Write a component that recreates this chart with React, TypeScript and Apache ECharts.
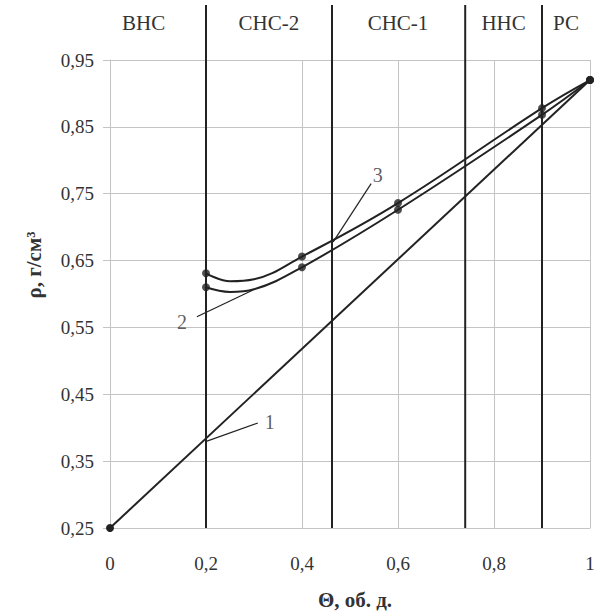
import React, { useEffect, useRef } from "react";
import * as echarts from "echarts";

// x ticks (Θ, vol. fraction) and y range (ρ, g/cm³)
const xMin = 0;
const xMax = 1;
const xStep = 0.2;
const yMin = 0.25;
const yMax = 0.95;
const yStep = 0.1;

// curve 1: straight line
const line1Theta = [0, 1];
const line1Rho = [0.25, 0.92];

// curves 2 and 3
const curveTheta = [0.2, 0.25, 0.3, 0.4, 0.6, 0.9, 1.0];
const rho2Curve = [0.61, 0.603, 0.607, 0.64, 0.726, 0.868, 0.92];
const rho3Curve = [0.631, 0.619, 0.622, 0.656, 0.736, 0.878, 0.92];

// measured points (markers)
const pointTheta = [0.2, 0.4, 0.6, 0.9, 1.0];
const rho2Points = [0.61, 0.64, 0.726, 0.868, 0.92];
const rho3Points = [0.631, 0.656, 0.736, 0.878, 0.92];

// zones
const zoneBounds = [0.2, 0.4625, 0.74, 0.9];
const zoneNames = ["ВНС", "СНС-2", "СНС-1", "ННС", "РС"];
const zoneLabelTheta = [0.07, 0.331, 0.6, 0.82, 0.95];

// curve callouts
const curveLabels = ["1", "2", "3"];
const curveLabelPos = [
  [0.333, 0.409],
  [0.15, 0.558],
  [0.558, 0.778],
];
const leaderFrom = [
  [0.202, 0.38],
  [0.181, 0.566],
  [0.465, 0.678],
];
const leaderTo = [
  [0.308, 0.407],
  [0.298, 0.606],
  [0.544, 0.765],
];

const FONT = '"Liberation Serif", "DejaVu Serif", serif';
const INK = "#222";
const TEXT = "#333";
const GRID = "#c4c4c4";

export default function App() {
  const ref = useRef<HTMLDivElement>(null);

  useEffect(() => {
    document.body.style.margin = "0";
    if (!ref.current) return;
    const chart = echarts.init(ref.current, undefined, { renderer: "svg" });

    const zip = (xs: number[], ys: number[]) => xs.map((x, i) => [x, ys[i]]);

    const series: any[] = [
      {
        type: "line",
        data: zip(line1Theta, line1Rho),
        symbol: "circle",
        symbolSize: 8,
        showSymbol: true,
        clip: false,
        lineStyle: { color: INK, width: 2 },
        itemStyle: { color: INK },
        z: 5,
      },
      {
        type: "line",
        data: zip(curveTheta, rho2Curve),
        smooth: 0.4,
        showSymbol: false,
        symbol: "none",
        lineStyle: { color: INK, width: 2 },
        z: 5,
      },
      {
        type: "line",
        data: zip(curveTheta, rho3Curve),
        smooth: 0.4,
        showSymbol: false,
        symbol: "none",
        lineStyle: { color: INK, width: 2 },
        z: 5,
      },
      {
        type: "scatter",
        data: [...zip(pointTheta, rho2Points), ...zip(pointTheta, rho3Points)],
        symbol: "circle",
        symbolSize: 8,
        clip: false,
        itemStyle: { color: INK },
        z: 6,
      },
      ...leaderFrom.map((p, i) => ({
        type: "line",
        data: [p, leaderTo[i]],
        symbol: "none",
        lineStyle: { color: INK, width: 1.2 },
        z: 4,
      })),
      {
        type: "scatter",
        data: curveLabelPos.map((p, i) => [p[0], p[1], curveLabels[i]]),
        symbolSize: 0,
        label: {
          show: true,
          position: "inside",
          formatter: (p: any) => p.data[2],
          fontFamily: FONT,
          fontSize: 20,
          color: TEXT,
        },
        z: 7,
      },
    ];

    chart.setOption({
      animation: false,
      backgroundColor: "#fff",
      grid: { left: 110, right: 10, top: 60, bottom: 84, containLabel: false },
      xAxis: {
        type: "value",
        min: xMin,
        max: xMax,
        interval: xStep,
        axisLine: { show: true, lineStyle: { color: GRID } },
        axisTick: { show: false },
        splitLine: { show: true, lineStyle: { color: GRID, width: 1 } },
        axisLabel: {
          margin: 26,
          fontFamily: FONT,
          fontSize: 19,
          color: TEXT,
          formatter: (v: number) =>
            v === 0 || v === 1 ? String(v) : v.toFixed(1).replace(".", ","),
        },
      },
      yAxis: {
        type: "value",
        min: yMin,
        max: yMax,
        interval: yStep,
        axisLine: { show: true, lineStyle: { color: GRID } },
        axisTick: { show: true, inside: false, length: 7, lineStyle: { color: GRID } },
        splitLine: { show: true, lineStyle: { color: GRID, width: 1 } },
        axisLabel: {
          margin: 16,
          fontFamily: FONT,
          fontSize: 19,
          color: TEXT,
          formatter: (v: number) => v.toFixed(2).replace(".", ","),
        },
      },
      series,
    });

    const toPx = (x: number, y: number) =>
      chart.convertToPixel({ gridIndex: 0 }, [x, y]) as number[];
    const bottom = toPx(0, yMin)[1];

    const graphics: any[] = [];
    zoneBounds.forEach((b) => {
      const px = toPx(b, yMin)[0];
      graphics.push({
        type: "line",
        shape: { x1: px, y1: 5, x2: px, y2: bottom },
        style: { stroke: INK, lineWidth: 2 },
        z: 10,
      });
    });
    zoneNames.forEach((name, i) => {
      const px = toPx(zoneLabelTheta[i], yMax)[0];
      graphics.push({
        type: "text",
        x: px,
        y: 23,
        style: {
          text: name,
          fontFamily: FONT,
          fontSize: 21,
          fill: TEXT,
          align: "center",
          verticalAlign: "middle",
        },
        z: 10,
      });
    });
    graphics.push({
      type: "text",
      x: 355,
      y: 600,
      style: {
        text: "Θ, об. д.",
        fontFamily: FONT,
        fontSize: 21,
        fontWeight: "bold",
        fill: TEXT,
        align: "center",
        verticalAlign: "middle",
      },
    });
    graphics.push({
      type: "text",
      x: 34,
      y: 265,
      rotation: Math.PI / 2,
      style: {
        text: "ρ, г/см³",
        fontFamily: FONT,
        fontSize: 21,
        fontWeight: "bold",
        fill: TEXT,
        align: "center",
        verticalAlign: "middle",
      },
    });
    chart.setOption({ graphic: graphics });

    return () => chart.dispose();
  }, []);

  return (
    <div
      ref={ref}
      style={{ width: 600, height: 612, position: "absolute", left: 0, top: 0 }}
    />
  );
}
